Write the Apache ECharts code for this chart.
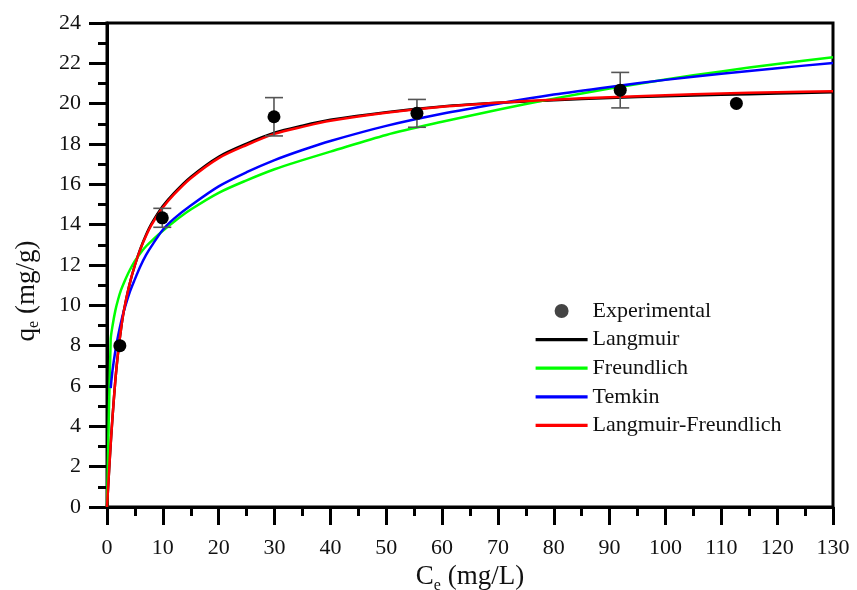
<!DOCTYPE html>
<html>
<head>
<meta charset="utf-8">
<script src="https://cdn.jsdelivr.net/npm/echarts@6/dist/echarts.min.js"></script>
<style>
html,body{margin:0;padding:0;background:#fff;}
#chart{width:857px;height:590px;}
</style>
</head>
<body>
<div id="chart"></div>
<script>
const expC = [2.3, 9.9, 29.9, 55.5, 91.9, 112.7];
const expQ = [8.0, 14.34, 19.35, 19.52, 20.67, 20.01];
const expErr = [0, 0.47, 0.95, 0.69, 0.88, 0];

// Model curves
const langC = [0, 0.25, 0.5, 0.75, 1, 1.5, 2, 2.5, 3, 4, 5, 6, 7, 8, 10, 12, 15, 20, 25, 30, 35, 40, 50, 60, 70, 80, 90, 100, 110, 120, 130];
const langmuirQ = [0, 1.2, 2.4, 3.5, 4.5, 6.3, 7.7, 8.8, 9.7, 11.0, 12.0, 12.82, 13.5, 14.06, 14.92, 15.57, 16.37, 17.37, 18.02, 18.56, 18.91, 19.2, 19.58, 19.86, 20.04, 20.17, 20.28, 20.37, 20.44, 20.5, 20.56];
const lfQ =       [0, 1.2, 2.4, 3.5, 4.5, 6.3, 7.7, 8.8, 9.7, 11.0, 12.0, 12.8, 13.45, 14.0, 14.85, 15.5, 16.3, 17.3, 17.95, 18.5, 18.85, 19.15, 19.55, 19.85, 20.05, 20.2, 20.32, 20.42, 20.5, 20.57, 20.62];

const freundC = [0, 0.66, 1, 1.5, 2, 2.5, 3, 4, 5, 6, 7, 8, 10, 12, 15, 20, 25, 30, 35, 40, 50, 60, 70, 80, 90, 100, 110, 120, 130];
const freundQ = [0, 8.3, 9.0, 9.75, 10.3, 10.75, 11.1, 11.7, 12.2, 12.6, 12.93, 13.2, 13.7, 14.15, 14.75, 15.58, 16.2, 16.75, 17.2, 17.62, 18.45, 19.1, 19.7, 20.25, 20.75, 21.2, 21.6, 21.97, 22.3];

const temkinC = [0.66, 1, 1.5, 2, 2.5, 3, 4, 5, 6, 7, 8, 10, 12, 15, 20, 25, 30, 35, 40, 50, 60, 70, 80, 90, 100, 110, 120, 130];
const temkinQ = [5.9, 6.8, 7.75, 8.5, 9.15, 9.7, 10.6, 11.3, 11.95, 12.5, 12.95, 13.75, 14.3, 14.95, 15.9, 16.6, 17.2, 17.7, 18.15, 18.9, 19.5, 20.0, 20.45, 20.83, 21.18, 21.48, 21.76, 22.02];

// Axis settings
const xTicks = {min: 0, max: 130, interval: 10};
const yTicks = {min: 0, max: 24, interval: 2};

const zip = (xs, ys) => xs.map((x, i) => [x, ys[i]]);
const errData = expC.map((c, i) => [c, expQ[i] - expErr[i], expQ[i] + expErr[i], expErr[i]]).filter(d => d[3] > 0);

const serif = '"Liberation Serif","Times New Roman",serif';
const chart = echarts.init(document.getElementById('chart'), null, {renderer: 'canvas'});

const lineSeries = (name, color, data, z) => ({
  name, type: 'line', data, symbol: 'none', showSymbol: false,
  smooth: 0.3,
  lineStyle: {color, width: 2.5}, itemStyle: {color}, z
});
const lineLegend = name => ({name, itemStyle: {opacity: 0}, lineStyle: {width: 3.2}});

chart.setOption({
  animation: false,
  backgroundColor: '#fff',
  grid: {left: 107, right: 24, top: 23, bottom: 83, show: true, borderColor: '#000', borderWidth: 3, outerBoundsMode: 'none', containLabel: false},
  xAxis: {
    type: 'value', min: xTicks.min, max: xTicks.max, interval: xTicks.interval,
    name: 'C{sub|e} (mg/L)', nameLocation: 'middle', nameGap: 48,
    nameTextStyle: {fontFamily: serif, fontSize: 27, color: '#111',
      rich: {sub: {fontFamily: serif, fontSize: 16, color: '#111', verticalAlign: 'bottom', padding: [16, 0, 0, 0]}}},
    axisLine: {show: true, onZero: false, lineStyle: {color: '#000', width: 3}},
    axisTick: {show: true, inside: false, length: 18, lineStyle: {color: '#000', width: 3}},
    minorTick: {show: true, splitNumber: 2, length: 9, lineStyle: {color: '#000', width: 3}},
    splitLine: {show: false}, minorSplitLine: {show: false},
    axisLabel: {fontFamily: serif, fontSize: 22, color: '#111', margin: 30}
  },
  yAxis: {
    type: 'value', min: yTicks.min, max: yTicks.max, interval: yTicks.interval,
    axisLine: {show: true, onZero: false, lineStyle: {color: '#000', width: 3}},
    axisTick: {show: true, inside: false, length: 18, lineStyle: {color: '#000', width: 3}},
    minorTick: {show: true, splitNumber: 2, length: 9, lineStyle: {color: '#000', width: 3}},
    splitLine: {show: false}, minorSplitLine: {show: false},
    axisLabel: {fontFamily: serif, fontSize: 22, color: '#111', margin: 26}
  },
  legend: {
    orient: 'vertical', left: 529, top: 295,
    itemWidth: 52, itemHeight: 14, itemGap: 6.6,
    textStyle: {fontFamily: serif, fontSize: 22, color: '#111', lineHeight: 22},
    data: [
      {name: 'Experimental', icon: 'circle', itemStyle: {color: '#444', opacity: 1}},
      lineLegend('Langmuir'), lineLegend('Freundlich'), lineLegend('Temkin'), lineLegend('Langmuir-Freundlich')
    ]
  },
  graphic: [{
    type: 'text', x: 27, y: 291, rotation: Math.PI / 2,
    style: {
      text: 'q{sub|e} (mg/g)', fontFamily: serif, fontSize: 27, fill: '#111',
      align: 'center', verticalAlign: 'middle',
      rich: {sub: {fontFamily: serif, fontSize: 16, fill: '#111', padding: [14, 0, 0, 0]}}
    }
  }],
  series: [
    lineSeries('Langmuir', '#000000', zip(langC, langmuirQ), 2),
    lineSeries('Freundlich', '#00ff00', zip(freundC, freundQ), 3),
    lineSeries('Temkin', '#0000ff', zip(temkinC, temkinQ), 4),
    lineSeries('Langmuir-Freundlich', '#ff0000', zip(langC, lfQ), 5),
    {
      name: 'err', type: 'custom', z: 6, data: errData,
      encode: {x: 0, y: [1, 2]},
      renderItem: (params, api) => {
        const x = api.value(0);
        const lo = api.coord([x, api.value(1)]);
        const hi = api.coord([x, api.value(2)]);
        const hw = 9;
        const st = {stroke: '#555', lineWidth: 1.6};
        return {type: 'group', children: [
          {type: 'line', shape: {x1: lo[0], y1: lo[1], x2: hi[0], y2: hi[1]}, style: st},
          {type: 'line', shape: {x1: lo[0] - hw, y1: lo[1], x2: lo[0] + hw, y2: lo[1]}, style: st},
          {type: 'line', shape: {x1: hi[0] - hw, y1: hi[1], x2: hi[0] + hw, y2: hi[1]}, style: st}
        ]};
      }
    },
    {
      name: 'Experimental', type: 'scatter', data: zip(expC, expQ),
      symbol: 'circle', symbolSize: 13, itemStyle: {color: '#000', opacity: 1}, z: 7
    }
  ]
});
</script>
</body>
</html>
